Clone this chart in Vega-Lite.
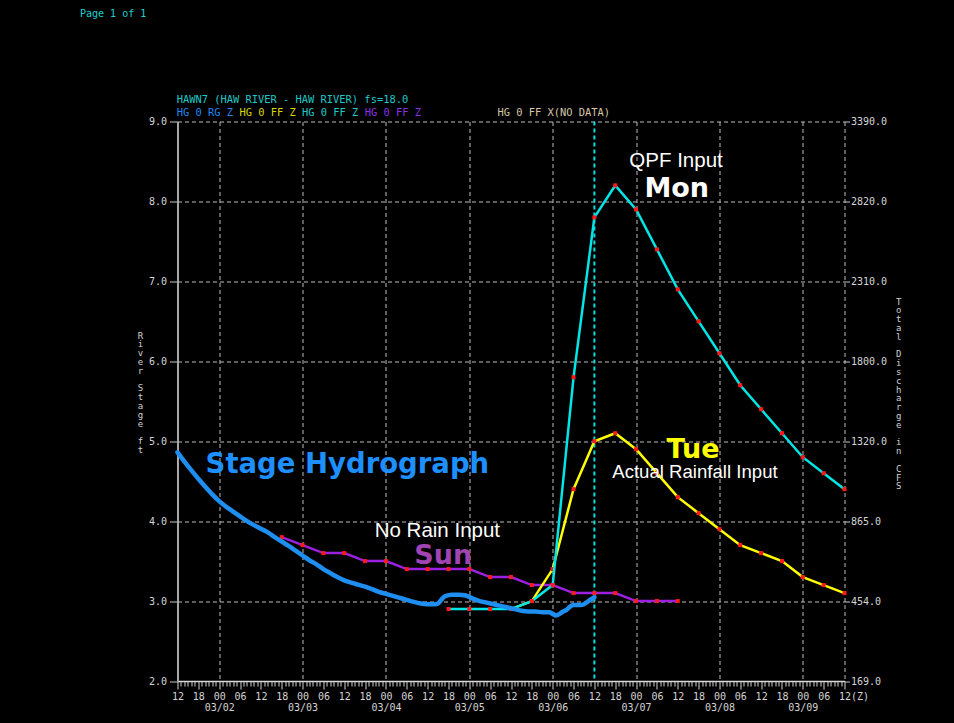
{
  "$schema": "https://vega.github.io/schema/vega-lite/v6.json",
  "width": 667,
  "height": 559.5,
  "autosize": {"type": "none"},
  "padding": {"left": 177.5, "top": 121.5, "right": 109.5, "bottom": 42},
  "background": "#000000",
  "config": {"view": {"stroke": null}},
  "datasets": {
    "obs": [
      {"h": 12, "stage": 4.86}, {"h": 14, "stage": 4.745}, {"h": 16, "stage": 4.635}, {"h": 18, "stage": 4.53},
      {"h": 20, "stage": 4.43}, {"h": 22, "stage": 4.335}, {"h": 24, "stage": 4.25}, {"h": 26, "stage": 4.18},
      {"h": 28, "stage": 4.12}, {"h": 30, "stage": 4.06}, {"h": 32, "stage": 4.0}, {"h": 34, "stage": 3.95},
      {"h": 36, "stage": 3.905}, {"h": 38, "stage": 3.86}, {"h": 40, "stage": 3.8}, {"h": 42, "stage": 3.745},
      {"h": 44, "stage": 3.69}, {"h": 46, "stage": 3.63}, {"h": 48, "stage": 3.57}, {"h": 50, "stage": 3.51},
      {"h": 52, "stage": 3.46}, {"h": 54, "stage": 3.4}, {"h": 56, "stage": 3.35}, {"h": 58, "stage": 3.3},
      {"h": 60, "stage": 3.26}, {"h": 62, "stage": 3.23}, {"h": 64, "stage": 3.205}, {"h": 66, "stage": 3.18},
      {"h": 68, "stage": 3.15}, {"h": 70, "stage": 3.115}, {"h": 72, "stage": 3.09}, {"h": 74, "stage": 3.065},
      {"h": 76, "stage": 3.04}, {"h": 78, "stage": 3.015}, {"h": 80, "stage": 2.99}, {"h": 82, "stage": 2.97},
      {"h": 84, "stage": 2.96}, {"h": 86, "stage": 2.96}, {"h": 87, "stage": 2.97}, {"h": 88, "stage": 3.02},
      {"h": 89, "stage": 3.06}, {"h": 91, "stage": 3.08}, {"h": 93, "stage": 3.08}, {"h": 95, "stage": 3.07},
      {"h": 97, "stage": 3.03}, {"h": 99, "stage": 3.0}, {"h": 101, "stage": 2.98}, {"h": 103, "stage": 2.96},
      {"h": 105, "stage": 2.94}, {"h": 107, "stage": 2.92}, {"h": 109, "stage": 2.9}, {"h": 111, "stage": 2.88},
      {"h": 113, "stage": 2.87}, {"h": 115, "stage": 2.87}, {"h": 117, "stage": 2.86}, {"h": 119, "stage": 2.86},
      {"h": 120, "stage": 2.84}, {"h": 121, "stage": 2.82}, {"h": 122, "stage": 2.84}, {"h": 123, "stage": 2.87},
      {"h": 124, "stage": 2.89}, {"h": 125, "stage": 2.93}, {"h": 126, "stage": 2.95}, {"h": 128, "stage": 2.95},
      {"h": 129, "stage": 2.96}, {"h": 130, "stage": 2.99}, {"h": 131, "stage": 3.02}, {"h": 132, "stage": 3.05}
    ],
    "norain": [
      {"h": 42, "stage": 3.8}, {"h": 48, "stage": 3.7}, {"h": 54, "stage": 3.6}, {"h": 60, "stage": 3.6},
      {"h": 66, "stage": 3.5}, {"h": 72, "stage": 3.5}, {"h": 78, "stage": 3.4}, {"h": 84, "stage": 3.4},
      {"h": 90, "stage": 3.4}, {"h": 96, "stage": 3.4}, {"h": 102, "stage": 3.3}, {"h": 108, "stage": 3.3},
      {"h": 114, "stage": 3.2}, {"h": 120, "stage": 3.2}, {"h": 126, "stage": 3.1}, {"h": 132, "stage": 3.1},
      {"h": 138, "stage": 3.1}, {"h": 144, "stage": 3.0}, {"h": 150, "stage": 3.0}, {"h": 156, "stage": 3.0}
    ],
    "actual": [
      {"h": 108, "stage": 2.9}, {"h": 114, "stage": 3.0}, {"h": 120, "stage": 3.4}, {"h": 126, "stage": 4.4},
      {"h": 132, "stage": 5.0}, {"h": 138, "stage": 5.1}, {"h": 144, "stage": 4.9}, {"h": 150, "stage": 4.6},
      {"h": 156, "stage": 4.3}, {"h": 162, "stage": 4.1}, {"h": 168, "stage": 3.9}, {"h": 174, "stage": 3.7},
      {"h": 180, "stage": 3.6}, {"h": 186, "stage": 3.5}, {"h": 192, "stage": 3.3}, {"h": 198, "stage": 3.2},
      {"h": 204, "stage": 3.1}
    ],
    "qpf": [
      {"h": 90, "stage": 2.9}, {"h": 96, "stage": 2.9}, {"h": 102, "stage": 2.9}, {"h": 108, "stage": 2.9},
      {"h": 114, "stage": 3.0}, {"h": 120, "stage": 3.2}, {"h": 126, "stage": 5.8}, {"h": 132, "stage": 7.8},
      {"h": 138, "stage": 8.2}, {"h": 144, "stage": 7.9}, {"h": 150, "stage": 7.4}, {"h": 156, "stage": 6.9},
      {"h": 162, "stage": 6.5}, {"h": 168, "stage": 6.1}, {"h": 174, "stage": 5.7}, {"h": 180, "stage": 5.4},
      {"h": 186, "stage": 5.1}, {"h": 192, "stage": 4.8}, {"h": 198, "stage": 4.6}, {"h": 204, "stage": 4.4}
    ],
    "now": [{"h": 132}]
  },
  "layer": [
    {
      "layer": [
        {
          "data": {"name": "now"},
          "mark": {"type": "rule", "color": "#00dede", "strokeWidth": 2, "strokeDash": [4, 3]},
          "encoding": {
            "x": {
              "field": "h", "type": "quantitative",
              "scale": {"domain": [12, 204], "nice": false, "zero": false},
              "axis": {
                "title": null,
                "tickCount": 192,
                "labelOverlap": false,
                "labelFlush": false,
                "labelBound": false,
                "labelExpr": "datum.value % 6 != 0 ? '' : datum.value == 204 ? '12(Z)' : datum.value % 24 == 0 ? ['00', '03/0' + (floor(datum.value / 24) + 1)] : (datum.value % 24 < 10 ? '0' : '') + (datum.value % 24)",
                "labelFont": "DejaVu Sans Mono",
                "labelFontSize": 10,
                "labelColor": "#d4d4d4",
                "labelLineHeight": 11,
                "labelPadding": 2,
                "labelAlign": {"condition": {"test": "datum.value == 204", "value": "left"}, "value": "center"},
                "labelOffset": {"condition": {"test": "datum.value == 204", "value": -6}, "value": 0},
                "tickColor": "#d4d4d4",
                "tickWidth": 1,
                "tickSize": {"condition": {"test": "datum.value % 6 == 0", "value": 8}, "value": 5},
                "domainColor": "#d8d8d8",
                "domainWidth": 1.5,
                "grid": true,
                "gridColor": "#bcbcbc",
                "gridDash": [4, 3],
                "gridWidth": 1,
                "gridOpacity": {"condition": {"test": "datum.value % 24 == 0 || datum.value == 204", "value": 1}, "value": 0}
              }
            }
          }
        },
        {
          "data": {"name": "norain"},
          "mark": {"type": "line", "color": "#9c20e0", "strokeWidth": 2.5,
                   "point": {"filled": true, "color": "#ff1a1a", "shape": "square", "size": 16}},
          "encoding": {
            "x": {"field": "h", "type": "quantitative"},
            "y": {
              "field": "stage", "type": "quantitative",
              "scale": {"domain": [2, 9], "nice": false, "zero": false},
              "axis": {
                "values": [2, 3, 4, 5, 6, 7, 8, 9],
                "format": ".1f",
                "labelFont": "DejaVu Sans Mono",
                "labelFontSize": 10,
                "labelColor": "#d4d4d4",
                "labelPadding": 3,
                "tickSize": 8,
                "tickColor": "#c8c8c8",
                "domainColor": "#a8a8a8",
                "domainWidth": 2,
                "grid": true,
                "gridColor": "#bcbcbc",
                "gridDash": [4, 3],
                "gridOpacity": {"condition": {"test": "datum.value == 2", "value": 0}, "value": 1},
                "title": ["R", "i", "v", "e", "r", "\u2800", "S", "t", "a", "g", "e", "\u2800", "f", "t"],
                "titleFont": "DejaVu Sans Mono",
                "titleFontSize": 9,
                "titleFontWeight": "normal",
                "titleColor": "#d0d0d0",
                "titleAngle": 0,
                "titleAlign": "center",
                "titleBaseline": "top",
                "titleLineHeight": 8.8,
                "titleX": -37.5,
                "titleY": 209.5
              }
            }
          }
        },
        {
          "data": {"name": "actual"},
          "mark": {"type": "line", "color": "#ffff00", "strokeWidth": 2.5,
                   "point": {"filled": true, "color": "#ff1a1a", "shape": "square", "size": 16}},
          "encoding": {
            "x": {"field": "h", "type": "quantitative"},
            "y": {"field": "stage", "type": "quantitative"}
          }
        },
        {
          "data": {"name": "qpf"},
          "mark": {"type": "line", "color": "#00e6e6", "strokeWidth": 2.5,
                   "point": {"filled": true, "color": "#ff1a1a", "shape": "square", "size": 16}},
          "encoding": {
            "x": {"field": "h", "type": "quantitative"},
            "y": {"field": "stage", "type": "quantitative"}
          }
        },
        {
          "data": {"values": [{"label": "Page 1 of 1"}]},
          "mark": {"type": "text", "font": "DejaVu Sans Mono", "fontSize": 10, "color": "#20d0d0", "align": "left", "baseline": "middle"},
          "encoding": {"text": {"field": "label"}, "x": {"datum": -16.07, "type": "quantitative"}, "y": {"datum": 10.345, "type": "quantitative"}}
        },
        {
          "data": {"values": [{"label": "HAWN7 (HAW RIVER - HAW RIVER) fs=18.0"}]},
          "mark": {"type": "text", "font": "DejaVu Sans Mono", "fontSize": 10.4, "color": "#20c8c8", "align": "left", "baseline": "middle"},
          "encoding": {"text": {"field": "label"}, "x": {"datum": 11.77, "type": "quantitative"}, "y": {"datum": 9.269, "type": "quantitative"}}
        },
        {
          "data": {"values": [{"label": "HG 0 RG Z"}]},
          "mark": {"type": "text", "font": "DejaVu Sans Mono", "fontSize": 10.4, "color": "#2088f0", "align": "left", "baseline": "middle"},
          "encoding": {"text": {"field": "label"}, "x": {"datum": 11.77, "type": "quantitative"}, "y": {"datum": 9.103, "type": "quantitative"}}
        },
        {
          "data": {"values": [{"label": "HG 0 FF Z"}]},
          "mark": {"type": "text", "font": "DejaVu Sans Mono", "fontSize": 10.4, "color": "#d8d800", "align": "left", "baseline": "middle"},
          "encoding": {"text": {"field": "label"}, "x": {"datum": 29.82, "type": "quantitative"}, "y": {"datum": 9.103, "type": "quantitative"}}
        },
        {
          "data": {"values": [{"label": "HG 0 FF Z"}]},
          "mark": {"type": "text", "font": "DejaVu Sans Mono", "fontSize": 10.4, "color": "#20c8c8", "align": "left", "baseline": "middle"},
          "encoding": {"text": {"field": "label"}, "x": {"datum": 47.86, "type": "quantitative"}, "y": {"datum": 9.103, "type": "quantitative"}}
        },
        {
          "data": {"values": [{"label": "HG 0 FF Z"}]},
          "mark": {"type": "text", "font": "DejaVu Sans Mono", "fontSize": 10.4, "color": "#8a30e8", "align": "left", "baseline": "middle"},
          "encoding": {"text": {"field": "label"}, "x": {"datum": 65.91, "type": "quantitative"}, "y": {"datum": 9.103, "type": "quantitative"}}
        },
        {
          "data": {"values": [{"label": "HG 0 FF X(NO DATA)"}]},
          "mark": {"type": "text", "font": "DejaVu Sans Mono", "fontSize": 10.4, "color": "#d8c8a8", "align": "left", "baseline": "middle"},
          "encoding": {"text": {"field": "label"}, "x": {"datum": 104.1, "type": "quantitative"}, "y": {"datum": 9.103, "type": "quantitative"}}
        },
        {
          "data": {"values": [{"label": "QPF Input"}]},
          "mark": {"type": "text", "font": "Liberation Sans", "fontSize": 20.5, "color": "#ffffff", "align": "center", "baseline": "alphabetic"},
          "encoding": {"text": {"field": "label"}, "x": {"datum": 155.5, "type": "quantitative"}, "y": {"datum": 8.43, "type": "quantitative"}}
        },
        {
          "data": {"values": [{"label": "Mon"}]},
          "mark": {"type": "text", "font": "DejaVu Sans", "fontWeight": "bold", "fontSize": 27, "color": "#ffffff", "align": "center", "baseline": "alphabetic"},
          "encoding": {"text": {"field": "label"}, "x": {"datum": 155.7, "type": "quantitative"}, "y": {"datum": 8.059, "type": "quantitative"}}
        },
        {
          "data": {"values": [{"label": "Tue"}]},
          "mark": {"type": "text", "font": "DejaVu Sans", "fontWeight": "bold", "fontSize": 27, "color": "#ffff00", "align": "center", "baseline": "alphabetic"},
          "encoding": {"text": {"field": "label"}, "x": {"datum": 160.4, "type": "quantitative"}, "y": {"datum": 4.79, "type": "quantitative"}}
        },
        {
          "data": {"values": [{"label": "Actual Rainfall Input"}]},
          "mark": {"type": "text", "font": "Liberation Sans", "fontSize": 18.6, "color": "#ffffff", "align": "center", "baseline": "alphabetic"},
          "encoding": {"text": {"field": "label"}, "x": {"datum": 160.95, "type": "quantitative"}, "y": {"datum": 4.535, "type": "quantitative"}}
        },
        {
          "data": {"values": [{"label": "No Rain Input"}]},
          "mark": {"type": "text", "font": "Liberation Sans", "fontSize": 20.5, "color": "#ffffff", "align": "center", "baseline": "alphabetic"},
          "encoding": {"text": {"field": "label"}, "x": {"datum": 86.8, "type": "quantitative"}, "y": {"datum": 3.8, "type": "quantitative"}}
        },
        {
          "data": {"values": [{"label": "Sun"}]},
          "mark": {"type": "text", "font": "DejaVu Sans", "fontWeight": "bold", "fontSize": 27, "color": "#a044b4", "align": "center", "baseline": "alphabetic"},
          "encoding": {"text": {"field": "label"}, "x": {"datum": 88.5, "type": "quantitative"}, "y": {"datum": 3.47, "type": "quantitative"}}
        },
        {
          "data": {"values": [{"label": "Stage Hydrograph"}]},
          "mark": {"type": "text", "font": "DejaVu Sans", "fontWeight": "bold", "fontSize": 27.5, "color": "#1e8fff", "align": "center", "baseline": "alphabetic"},
          "encoding": {"text": {"field": "label"}, "x": {"datum": 60.9, "type": "quantitative"}, "y": {"datum": 4.6, "type": "quantitative"}}
        }
      ]
    },
    {
      "data": {"name": "obs"},
      "mark": {"type": "line", "color": "#1e8ff0", "strokeWidth": 4.5, "strokeJoin": "round", "strokeCap": "round", "interpolate": "monotone"},
      "encoding": {
        "x": {"field": "h", "type": "quantitative"},
        "y": {
          "field": "stage", "type": "quantitative",
          "scale": {"domain": [2, 9], "nice": false, "zero": false},
          "axis": {
            "orient": "right",
            "values": [2, 3, 4, 5, 6, 7, 8, 9],
            "labelExpr": "datum.value == 2 ? '169.0' : datum.value == 3 ? '454.0' : datum.value == 4 ? '865.0' : datum.value == 5 ? '1320.0' : datum.value == 6 ? '1800.0' : datum.value == 7 ? '2310.0' : datum.value == 8 ? '2820.0' : '3390.0'",
            "labelFont": "DejaVu Sans Mono",
            "labelFontSize": 10,
            "labelColor": "#d4d4d4",
            "labelPadding": 1,
            "tickSize": 5,
            "tickColor": "#c8c8c8",
            "domain": false,
            "grid": false,
            "title": ["T", "o", "t", "a", "l", "\u2800", "D", "i", "s", "c", "h", "a", "r", "g", "e", "\u2800", "i", "n", "\u2800", "C", "F", "S"],
            "titleFont": "DejaVu Sans Mono",
            "titleFontSize": 9,
            "titleFontWeight": "normal",
            "titleColor": "#d0d0d0",
            "titleAngle": 0,
            "titleAlign": "center",
            "titleBaseline": "top",
            "titleLineHeight": 8.8,
            "titleX": 53.6,
            "titleY": 175.5
          }
        }
      }
    }
  ],
  "resolve": {"axis": {"y": "independent"}}
}
